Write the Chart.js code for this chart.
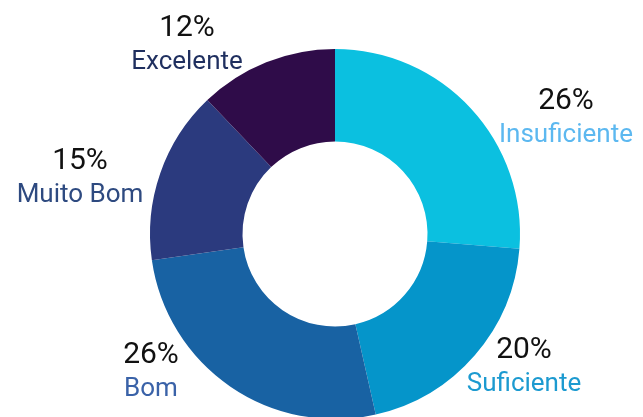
<!DOCTYPE html>
<html>
<head>
<meta charset="utf-8">
<script src="https://cdn.jsdelivr.net/npm/chart.js@4/dist/chart.umd.min.js"></script>
<style>
  html, body { margin: 0; padding: 0; background: #fff; overflow: hidden; }
  #wrap { width: 643px; height: 417px; overflow: hidden; }
</style>
</head>
<body>
<div id="wrap"><canvas id="chart" width="643" height="468"></canvas></div>
<script>
const categories = ['Insuficiente', 'Suficiente', 'Bom', 'Muito Bom', 'Excelente'];
const percents = [26, 20, 26, 15, 12];

const sliceColors = ['#0bc0e0', '#0595ca', '#1862a3', '#2b3a7e', '#2f0c49'];
const nameColors = ['#5cb8f0', '#1c9ad0', '#3a62a8', '#2e4a80', '#1f2f5f'];
// text anchors (center x, baseline of the percent line)
const anchors = [[566, 109], [524, 358], [151, 363], [80, 169], [187, 36]];

const outsideLabels = {
    id: 'outsideLabels',
    afterDatasetsDraw(chart) {
        const ctx = chart.ctx;
        ctx.save();
        ctx.textAlign = 'center';
        ctx.textBaseline = 'alphabetic';
        categories.forEach((name, i) => {
            const [x, y] = anchors[i];
            ctx.fillStyle = '#111111';
            ctx.font = '30px Roboto';
            ctx.fillText(percents[i] + '%', x, y);
            ctx.fillStyle = nameColors[i];
            ctx.font = '26px Roboto';
            ctx.fillText(name, x, y + 33);
        });
        ctx.restore();
    }
};

new Chart(document.getElementById('chart'), {
    type: 'doughnut',
    data: {
        labels: categories,
        datasets: [{
            data: percents,
            backgroundColor: sliceColors,
            borderWidth: 0
        }]
    },
    options: {
        responsive: false,
        animation: false,
        cutout: '50%',
        layout: { padding: { top: 49, bottom: 49, left: 27, right: 0 } },
        plugins: {
            legend: { display: false },
            tooltip: { enabled: false }
        }
    },
    plugins: [outsideLabels]
});
</script>
</body>
</html>
